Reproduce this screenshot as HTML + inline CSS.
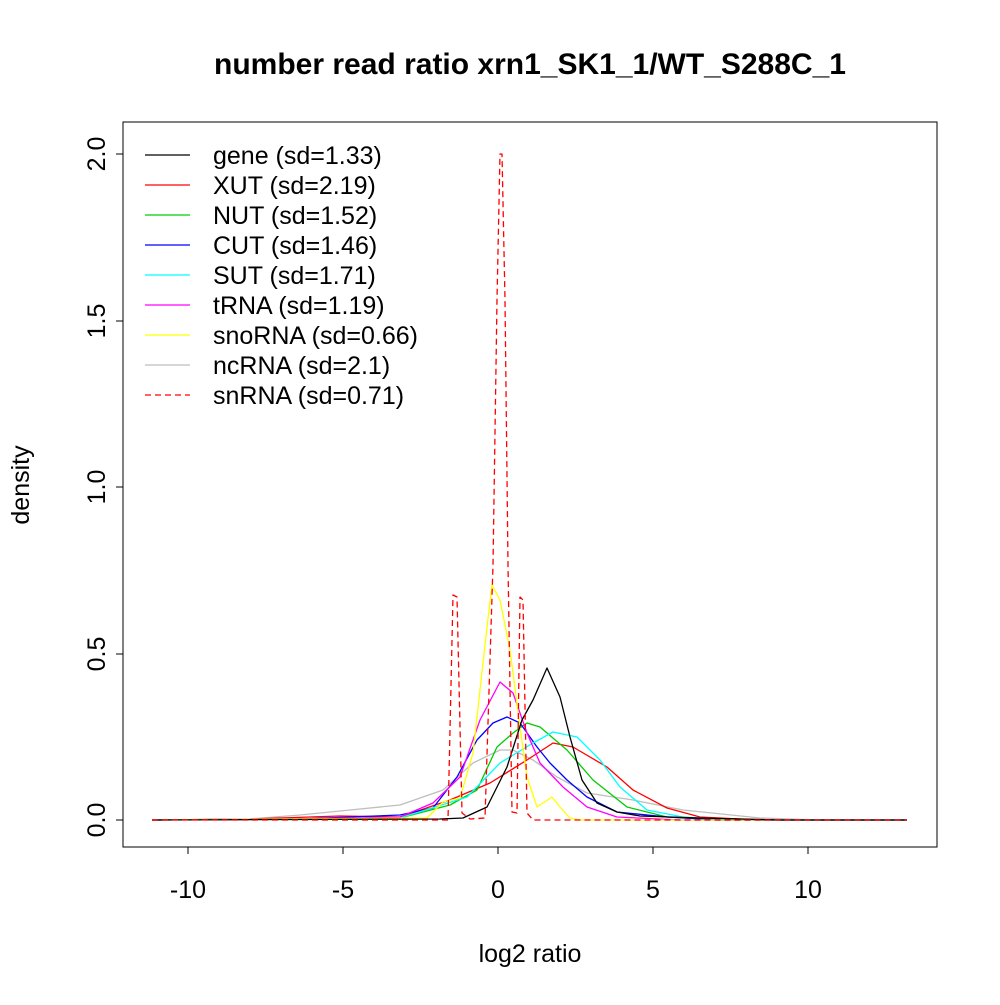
<!DOCTYPE html><html><head><style>body{margin:0;background:#fff}</style></head><body>
<svg width="1000" height="1000" xmlns="http://www.w3.org/2000/svg" font-family="Liberation Sans, sans-serif" fill="none">
<rect width="1000" height="1000" fill="#fff"/>
<text x="530" y="74" font-size="30" font-weight="bold" text-anchor="middle" fill="#000">number read ratio xrn1_SK1_1/WT_S288C_1</text>
<rect x="123" y="122" width="814" height="725" stroke="#000" stroke-width="1"/>
<g stroke="#000">
<line x1="188" y1="847" x2="808" y2="847"/>
<line x1="188" y1="847" x2="188" y2="854"/><line x1="343" y1="847" x2="343" y2="854"/><line x1="498" y1="847" x2="498" y2="854"/><line x1="653" y1="847" x2="653" y2="854"/><line x1="808" y1="847" x2="808" y2="854"/>
<line x1="123" y1="154" x2="123" y2="820"/>
<line x1="116" y1="820" x2="123" y2="820"/><line x1="116" y1="654" x2="123" y2="654"/><line x1="116" y1="487" x2="123" y2="487"/><line x1="116" y1="321" x2="123" y2="321"/><line x1="116" y1="154" x2="123" y2="154"/>
</g>
<g font-size="25" fill="#000" text-anchor="middle">
<text x="188" y="898">-10</text><text x="343" y="898">-5</text><text x="498" y="898">0</text><text x="653" y="898">5</text><text x="808" y="898">10</text>
<text transform="translate(105,820) rotate(-90)">0.0</text>
<text transform="translate(105,654) rotate(-90)">0.5</text>
<text transform="translate(105,487) rotate(-90)">1.0</text>
<text transform="translate(105,321) rotate(-90)">1.5</text>
<text transform="translate(105,154) rotate(-90)">2.0</text>
<text x="530" y="962">log2 ratio</text>
<text transform="translate(29,485) rotate(-90)">density</text>
</g>
<g stroke-width="1.3" stroke-linejoin="round">
<polyline stroke="#bebebe" points="152,820 250,819 300,815 350,810 400,805 443,790 473,763 500,750 513,750 533,760 557,777 587,793 633,800 683,810 760,818 820,820 907,820"/>
<polyline stroke="#f00" points="152,820 250,819 340,816 400,817 450,800 490,783 527,760 553,743 573,747 607,767 633,790 667,808 700,817 760,820 907,820"/>
<polyline stroke="#0c0" points="152,820 300,819 400,818 450,805 477,790 497,747 513,733 527,723 540,727 567,750 593,780 627,807 667,817 720,820 907,820"/>
<polyline stroke="#00f" points="152,820 300,819 400,815 433,808 457,777 477,740 493,723 507,717 520,723 537,747 550,763 567,780 587,797 617,812 667,817 720,820 907,820"/>
<polyline stroke="#0ff" points="152,820 280,819 400,818 467,797 500,763 533,743 553,732 577,737 600,760 620,787 647,810 683,817 740,820 907,820"/>
<polyline stroke="#f0f" points="152,820 300,819 400,817 433,803 460,777 480,720 500,682 513,693 527,733 540,763 563,787 587,807 617,817 680,820 907,820"/>
<polyline stroke="#ff0" points="152,820 427,818 443,802 460,798 473,753 487,627 492,585 500,600 510,650 520,727 527,777 537,807 543,803 552,797 560,807 570,818 580,820 907,820"/>
<polyline stroke="#000" points="152,820 440,819 463,818 487,807 507,767 522,720 533,700 547,668 560,697 570,737 582,780 597,803 617,812 640,816 700,818 780,820 907,820"/>
<polyline stroke="#f00" stroke-dasharray="6,4" points="152,820 448,820 453,595 457,597 462,813 470,819 485,818 493,565 497,300 500,154 502,154 505,300 508,565 512,812 517,813 520,597 523,600 527,813 533,820 907,820"/>
</g>
<g stroke-width="1.3">
<line x1="145" y1="155" x2="190" y2="155" stroke="#000"/>
<line x1="145" y1="185" x2="190" y2="185" stroke="#f00"/>
<line x1="145" y1="215" x2="190" y2="215" stroke="#0c0"/>
<line x1="145" y1="245" x2="190" y2="245" stroke="#00f"/>
<line x1="145" y1="275" x2="190" y2="275" stroke="#0ff"/>
<line x1="145" y1="305" x2="190" y2="305" stroke="#f0f"/>
<line x1="145" y1="335" x2="190" y2="335" stroke="#ff0"/>
<line x1="145" y1="365" x2="190" y2="365" stroke="#bebebe"/>
<line x1="145" y1="395" x2="190" y2="395" stroke="#f00" stroke-dasharray="6,4"/>
</g>
<g font-size="25" fill="#000">
<text x="213" y="164">gene (sd=1.33)</text>
<text x="213" y="194">XUT (sd=2.19)</text>
<text x="213" y="224">NUT (sd=1.52)</text>
<text x="213" y="254">CUT (sd=1.46)</text>
<text x="213" y="284">SUT (sd=1.71)</text>
<text x="213" y="314">tRNA (sd=1.19)</text>
<text x="213" y="344">snoRNA (sd=0.66)</text>
<text x="213" y="374">ncRNA (sd=2.1)</text>
<text x="213" y="404">snRNA (sd=0.71)</text>
</g>
</svg>
</body></html>
